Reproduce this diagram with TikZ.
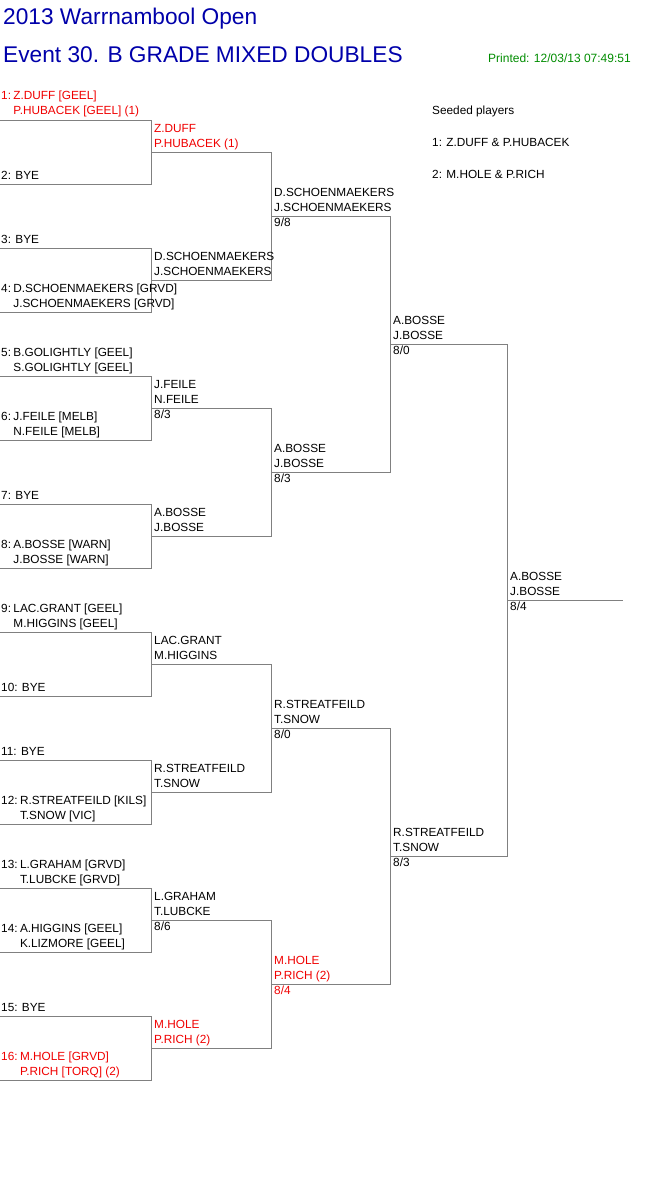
\documentclass[tikz,border=0pt]{standalone}
\usepackage{fontspec}
\setmainfont{Liberation Sans}
\usetikzlibrary{calc}
\definecolor{titleblue}{RGB}{0,0,170}
\definecolor{seedred}{RGB}{240,0,0}
\definecolor{printgreen}{RGB}{0,140,0}
\definecolor{drawgrey}{RGB}{128,128,128}

\begin{document}
\begin{tikzpicture}[x=1pt,y=-1pt,
  drawline/.style={draw=drawgrey, line width=1pt},
  player/.style={anchor=base west, inner sep=0pt, font=\fontsize{11.8}{14}\selectfont},
  heading/.style={anchor=base west, inner sep=0pt, text=titleblue, font=\fontsize{22.7}{26}\selectfont}]
\useasboundingbox (0,0) rectangle (661,1196);

% headings
\node[heading] (title) at (3,25) {2013 Warrnambool Open};
\node[heading] (event) at (3,63) {Event 30. B GRADE MIXED DOUBLES};
\node[player, text=printgreen, font=\fontsize{12}{14}\selectfont] (printed) at (488,63) {Printed: 12/03/13 07:49:51};

% seeds
\node[player] (seedhead) at (432,114) {Seeded players};
\node[player] (seed1) at (432,146.5) {1: Z.DUFF \& P.HUBACEK};
\node[player] (seed2) at (432,178.5) {2: M.HOLE \& P.RICH};

% slots of the draw
\foreach \k in {1,...,16} \coordinate (r1s\k) at (0,{56.5+64*\k});
\foreach \k in {1,...,8} \coordinate (r2s\k) at (151.5,{24.5+128*\k});
\foreach \k in {1,...,4} \coordinate (r3s\k) at (271.5,{-39.5+256*\k});
\foreach \k in {1,2} \coordinate (r4s\k) at (390.5,{-167.5+512*\k});
\coordinate (r5s1) at (507.5,600.5);
\coordinate (champ) at (623,600.5);

% brackets
\foreach \rd/\nm in {1/8,2/4,3/2,4/1} {
  \pgfmathtruncatemacro\nx{\rd+1}
  \foreach \m in {1,...,\nm} {
    \pgfmathtruncatemacro\ka{2*\m-1}
    \pgfmathtruncatemacro\kb{2*\m}
    \draw[drawline] (r\rd s\ka) -| (r\nx s\m) |- (r\rd s\kb);
  }
}
\draw[drawline] (r5s1) -- (champ);

% first round
\foreach \k/\pa/\pb/\col in {1/Z.DUFF [GEEL]/P.HUBACEK [GEEL] (1)/seedred,
    4/D.SCHOENMAEKERS [GRVD]/J.SCHOENMAEKERS [GRVD]/black,
    5/B.GOLIGHTLY [GEEL]/S.GOLIGHTLY [GEEL]/black,
    6/J.FEILE [MELB]/N.FEILE [MELB]/black,
    8/A.BOSSE [WARN]/J.BOSSE [WARN]/black,
    9/LAC.GRANT [GEEL]/M.HIGGINS [GEEL]/black,
    12/R.STREATFEILD [KILS]/T.SNOW [VIC]/black,
    13/L.GRAHAM [GRVD]/T.LUBCKE [GRVD]/black,
    14/A.HIGGINS [GEEL]/K.LIZMORE [GEEL]/black,
    16/M.HOLE [GRVD]/P.RICH [TORQ] (2)/seedred} {
  \node[player, text=\col] (e\k) at ($(r1s\k)+(1,-20.5)$) {\k:};
  \node[player, text=\col] (e\k a) at ($(e\k.base east)+(2,0)$) {\pa};
  \node[player, text=\col] (e\k b) at ($(e\k a.base west)+(0,15)$) {\pb};
}
\foreach \k in {2,3,7,10,11,15}
  \node[player] (e\k) at ($(r1s\k)+(1,-5.5)$) {\k: BYE};

% winners
\foreach \p/\pa/\pb/\col in {r2s1/Z.DUFF/P.HUBACEK (1)/seedred,
    r2s2/D.SCHOENMAEKERS/J.SCHOENMAEKERS/black,
    r2s3/J.FEILE/N.FEILE/black,
    r2s4/A.BOSSE/J.BOSSE/black,
    r2s5/LAC.GRANT/M.HIGGINS/black,
    r2s6/R.STREATFEILD/T.SNOW/black,
    r2s7/L.GRAHAM/T.LUBCKE/black,
    r2s8/M.HOLE/P.RICH (2)/seedred,
    r3s1/D.SCHOENMAEKERS/J.SCHOENMAEKERS/black,
    r3s2/A.BOSSE/J.BOSSE/black,
    r3s3/R.STREATFEILD/T.SNOW/black,
    r3s4/M.HOLE/P.RICH (2)/seedred,
    r4s1/A.BOSSE/J.BOSSE/black,
    r4s2/R.STREATFEILD/T.SNOW/black,
    r5s1/A.BOSSE/J.BOSSE/black} {
  \node[player, text=\col] (\p a) at ($(\p)+(2.5,-20.5)$) {\pa};
  \node[player, text=\col] (\p b) at ($(\p)+(2.5,-5.5)$) {\pb};
}

% scores
\foreach \p/\w/\l/\col in {r2s3/8/3/black, r2s7/8/6/black,
    r3s1/9/8/black, r3s2/8/3/black, r3s3/8/0/black, r3s4/8/4/seedred,
    r4s1/8/0/black, r4s2/8/3/black, r5s1/8/4/black}
  \node[player, text=\col] (\p c) at ($(\p)+(2.5,9.5)$) {\w/\l};
\end{tikzpicture}
\end{document}
